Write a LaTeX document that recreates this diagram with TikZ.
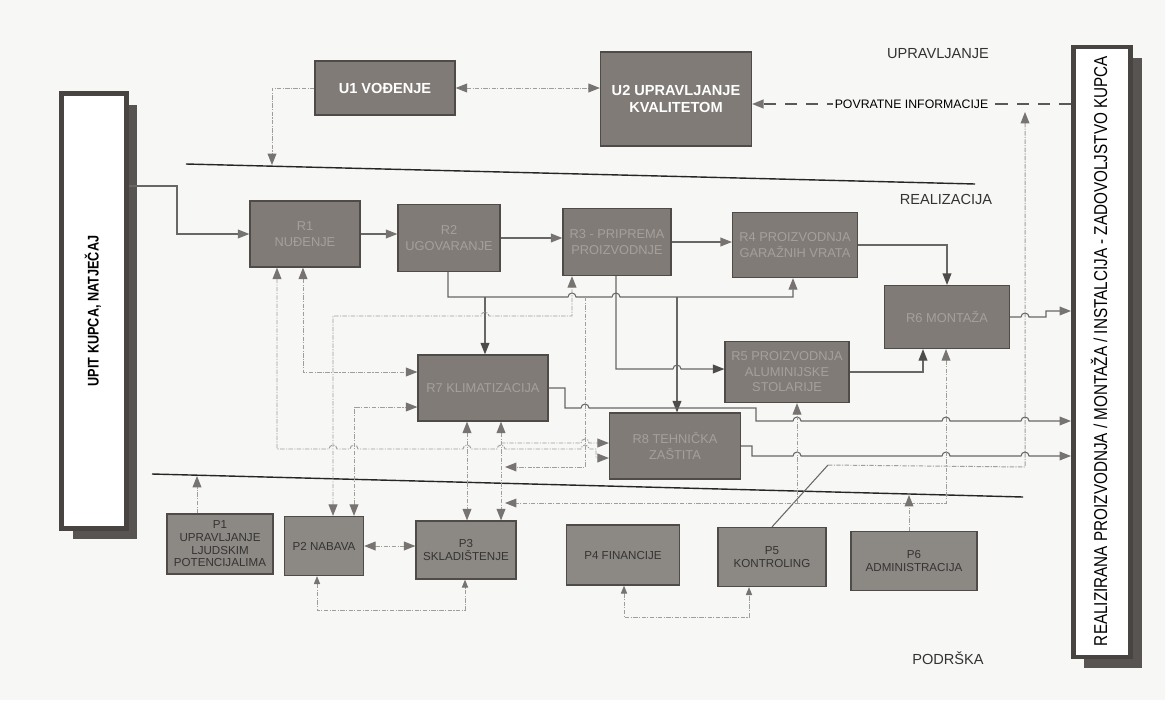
\documentclass[tikz,border=0pt]{standalone}
\usepackage{fontspec}
\setsansfont{Liberation Sans}
\newfontfamily\narrowsf[FakeStretch=0.82]{Liberation Sans}
\usetikzlibrary{arrows.meta,positioning,shadows}
\definecolor{paper}{RGB}{247,247,246}
\definecolor{boxfill}{RGB}{128,123,119}
\definecolor{pfill}{RGB}{140,136,132}
\definecolor{boxline}{RGB}{78,75,73}
\definecolor{rtext}{RGB}{165,160,156}
\definecolor{ptext}{RGB}{52,52,52}
\definecolor{barline}{RGB}{72,68,66}
\definecolor{barshadow}{RGB}{88,84,82}
\definecolor{tipgray}{RGB}{118,115,112}
\definecolor{tipdark}{RGB}{78,76,74}
\definecolor{linegray}{RGB}{105,103,101}
\definecolor{dotgray}{RGB}{160,158,156}
\tikzset{
  basic/.style = {draw=boxline, line width=0.7pt, rectangle, inner sep=1pt, align=center, font=\sffamily},
  ubox/.style  = {basic, fill=boxfill, text=white, font=\sffamily\bfseries\fontsize{8.3}{9.8}\selectfont},
  rbox/.style  = {basic, fill=boxfill, text=rtext, font=\sffamily\fontsize{7.3}{8.8}\selectfont},
  pbox/.style  = {basic, fill=pfill, text=ptext, font=\sffamily\fontsize{6.6}{7.2}\selectfont},
  bar/.style   = {draw=barline, line width=2.6pt, fill=white, rectangle,
                  drop shadow={shadow xshift=0.22cm, shadow yshift=-0.22cm, fill=barshadow, opacity=1}},
  zone/.style  = {font=\sffamily\fontsize{8.3}{10}\selectfont, text=black!80},
  flow/.style  = {draw=linegray, line width=0.6pt, ->},
  dflow/.style = {flow, >={Triangle[length=6.5pt,width=5pt,color=tipdark]}},
  link/.style  = {draw=dotgray, line width=0.55pt, dash pattern=on 2.5pt off 0.8pt on 0.6pt off 0.8pt},
  small/.style = {>={Triangle[length=4.5pt,width=3.5pt,color=tipgray]}},
  feedback/.style = {draw=black!65, line width=0.9pt, dash pattern=on 7pt off 5pt, ->},
  sep/.style   = {draw=black!85, line width=0.8pt}
}

\begin{document}
\begin{tikzpicture}[x=0.02cm, y=-0.02cm, >={Triangle[length=6.5pt,width=5pt,color=tipgray]}]
\path[use as bounding box, fill=paper] (0,0) rectangle (1165,700);

% side bars
\node[bar, minimum width=1.3cm, minimum height=8.7cm] (upit) at (94,311) {};
\node[rotate=90, font=\narrowsf\bfseries\fontsize{8.8}{10}\selectfont] (upittxt) at (93,311) {UPIT KUPCA, NATJEČAJ};
\node[bar, minimum width=1.15cm, minimum height=12.2cm] (real) at (1102,352) {};
\node[rotate=90, font=\narrowsf\fontsize{10.6}{12}\selectfont] (realtxt) at (1099,351)
  {REALIZIRANA PROIZVODNJA / MONTAŽA / INSTALCIJA - ZADOVOLJSTVO KUPCA};

% zone labels and separators
\node[zone] (zu) at (938,54) {UPRAVLJANJE};
\node[zone] (zr) at (946,199) {REALIZACIJA};
\node[zone] (zp) at (948,658) {PODRŠKA};
\draw[sep] (186,164) -- (975,184);
\draw[sep] (152,474) -- (1023,497);
\coordinate (s1) at (272,165);
\coordinate (s2a) at (197,476);
\coordinate (s2b) at (909,495);
\coordinate (fbpt) at (1025,112);

% upravljanje
\node[ubox, minimum width=2.8cm, minimum height=1.08cm] (u1) at (385,88) {U1 VOĐENJE};
\node[ubox, minimum width=3.02cm, minimum height=1.88cm] (u2) at (676,99) {U2 UPRAVLJANJE\\KVALITETOM};

% realizacija
\node[rbox, minimum width=2.2cm, minimum height=1.32cm] (r1) at (305,234) {R1\\NUĐENJE};
\node[rbox, minimum width=2.04cm, minimum height=1.34cm] (r2) at (449,238) {R2\\UGOVARANJE};
\node[rbox, minimum width=2.16cm, minimum height=1.34cm] (r3) at (617,242) {R3 - PRIPREMA\\PROIZVODNJE};
\node[rbox, minimum width=2.5cm, minimum height=1.3cm] (r4) at (795,245) {R4 PROIZVODNJA\\GARAŽNIH VRATA};
\node[rbox, minimum width=2.5cm, minimum height=1.26cm] (r6) at (947,317) {R6 MONTAŽA};
\node[rbox, minimum width=2.6cm, minimum height=1.32cm] (r7) at (483,388) {R7 KLIMATIZACIJA};
\node[rbox, minimum width=2.48cm, minimum height=1.22cm] (r5) at (787,372) {R5 PROIZVODNJA\\ALUMINIJSKE\\STOLARIJE};
\node[rbox, minimum width=2.62cm, minimum height=1.32cm] (r8) at (675,446) {R8 TEHNIČKA\\ZAŠTITA};

% podrska
\node[pbox, minimum width=2.12cm, minimum height=1.2cm] (p1) at (220,544) {P1\\UPRAVLJANJE\\LJUDSKIM\\POTENCIJALIMA};
\node[pbox, minimum width=1.58cm, minimum height=1.18cm] (p2) at (324,546) {P2 NABAVA};
\node[pbox, minimum width=2.0cm, minimum height=1.16cm] (p3) at (466,550) {P3\\SKLADIŠTENJE};
\node[pbox, minimum width=2.26cm, minimum height=1.2cm] (p4) at (623,555) {P4 FINANCIJE};
\node[pbox, minimum width=2.16cm, minimum height=1.18cm] (p5) at (772,557) {P5\\KONTROLING};
\node[pbox, minimum width=2.52cm, minimum height=1.18cm] (p6) at (914,561) {P6\\ADMINISTRACIJA};

% upravljanje links
\draw[link,->] (u1.west) -| (s1);
\draw[link,<->] (u1.east) -- (u1.east -| u2.west);
\draw[feedback] (real.west |- 0,104) -- (u2.east |- 0,104)
  node[midway, fill=paper, inner sep=1pt, font=\sffamily\fontsize{7}{8}\selectfont] (fbtxt) {POVRATNE INFORMACIJE};
\coordinate (kink) at (828,465);
\draw[flow,-] (p5.north) -- (kink);
\draw[link,->] (kink) -- (1025,467) -- (fbpt);

% main flow
\draw[flow] (upit.east |- 0,186) -| (177,234) -- (r1.west);
\draw[flow] (r1.east) -- (r1.east -| r2.west);
\draw[flow] (r2.east) -- (r2.east -| r3.west);
\draw[flow] (r3.east) -- (r3.east -| r4.west);
\draw[dflow] (r4.east) -| (r6.north);
\draw[flow] (r6.east) -- (1021,317) arc[start angle=180,end angle=0,radius=0.08cm]
  -- (1046,317) |- (real.west |- 0,311);

% bus under R2 / R3
\coordinate (busa) at (485,297);
\coordinate (busb) at (677,297);
\coordinate (busc) at (585,297);
\draw[flow] (448,0 |- r2.south) |- (568,297) arc[start angle=180,end angle=0,radius=0.08cm]
  -- (612,297) arc[start angle=180,end angle=0,radius=0.08cm]
  -- (793,297) -- (793,0 |- r4.south);
\draw[dflow] (busa) -- (busa |- r7.north);
\draw[dflow] (busb) -- (busb |- r8.north);
\draw[dflow] (616,0 |- r3.south) -- (616,369) -- (673,369) arc[start angle=180,end angle=0,radius=0.08cm]
  -- (r5.west |- 0,369);
\draw[link,->] (busc) -- (585,467) -- (505,467);

% dotted links round R1, R7, P2, P3
\draw[link,<->] (333,0 |- p2.north) -- (333,316) -- (481,316) arc[start angle=180,end angle=0,radius=0.08cm]
  -- (572,316) -- (572,0 |- r3.south);
\draw[link,<->] (303,0 |- r1.south) -- (303,372) -- (r7.west |- 0,372);
\draw[link,<->] (354,0 |- p2.north) -- (354,407) -- (r7.west |- 0,407);
\draw[link,<->] (277,0 |- r1.south) -- (277,449) -- (329,449) arc[start angle=180,end angle=0,radius=0.08cm]
  -- (350,449) arc[start angle=180,end angle=0,radius=0.08cm]
  -- (463,449) arc[start angle=180,end angle=0,radius=0.08cm]
  -- (497,449) arc[start angle=180,end angle=0,radius=0.08cm]
  -- (581,449) arc[start angle=180,end angle=0,radius=0.08cm]
  -- (596,449) -- (596,458) -- (r8.west |- 0,458);
\draw[link,->] (501,443) -- (581,443) arc[start angle=180,end angle=0,radius=0.08cm] -- (r8.west |- 0,443);
\draw[link,<->] (467,0 |- r7.south) -- (467,0 |- p3.north);
\draw[link,<->] (501,0 |- r7.south) -- (501,0 |- p3.north);

% outputs to the right bar
\draw[flow] (r7.east) -- (565,388) -- (565,408) -- (581,408) arc[start angle=180,end angle=0,radius=0.08cm]
  -- (756,408) -- (756,421) -- (793,421) arc[start angle=180,end angle=0,radius=0.08cm]
  -- (942,421) arc[start angle=180,end angle=0,radius=0.08cm]
  -- (1021,421) arc[start angle=180,end angle=0,radius=0.08cm] -- (real.west |- 0,421);
\draw[flow] (r8.east) -- (752,446) -- (752,456) -- (793,456) arc[start angle=180,end angle=0,radius=0.08cm]
  -- (942,456) arc[start angle=180,end angle=0,radius=0.08cm]
  -- (1021,456) arc[start angle=180,end angle=0,radius=0.08cm] -- (real.west |- 0,456);
\draw[dflow] (r5.east) -| (923,0 |- r6.south);
\draw[link,<->] (946,0 |- r6.south) -- (946,503) -- (505,503);
\draw[link,->] (797,503) -- (797,0 |- r5.south);

% podrska links
\draw[link,->] (p1.north -| 197,0) -- (s2a);
\draw[link,->] (p6.north -| 909,0) -- (s2b);
\draw[link,<->] (p2.east) -- (p2.east -| p3.west);
\draw[link,small,<->] (317,0 |- p2.south) -- (317,610) -- (465,610) -- (465,0 |- p3.south);
\draw[link,small,<->] (624,0 |- p4.south) -- (624,617) -- (749,617) -- (749,0 |- p5.south);
\end{tikzpicture}
\end{document}
